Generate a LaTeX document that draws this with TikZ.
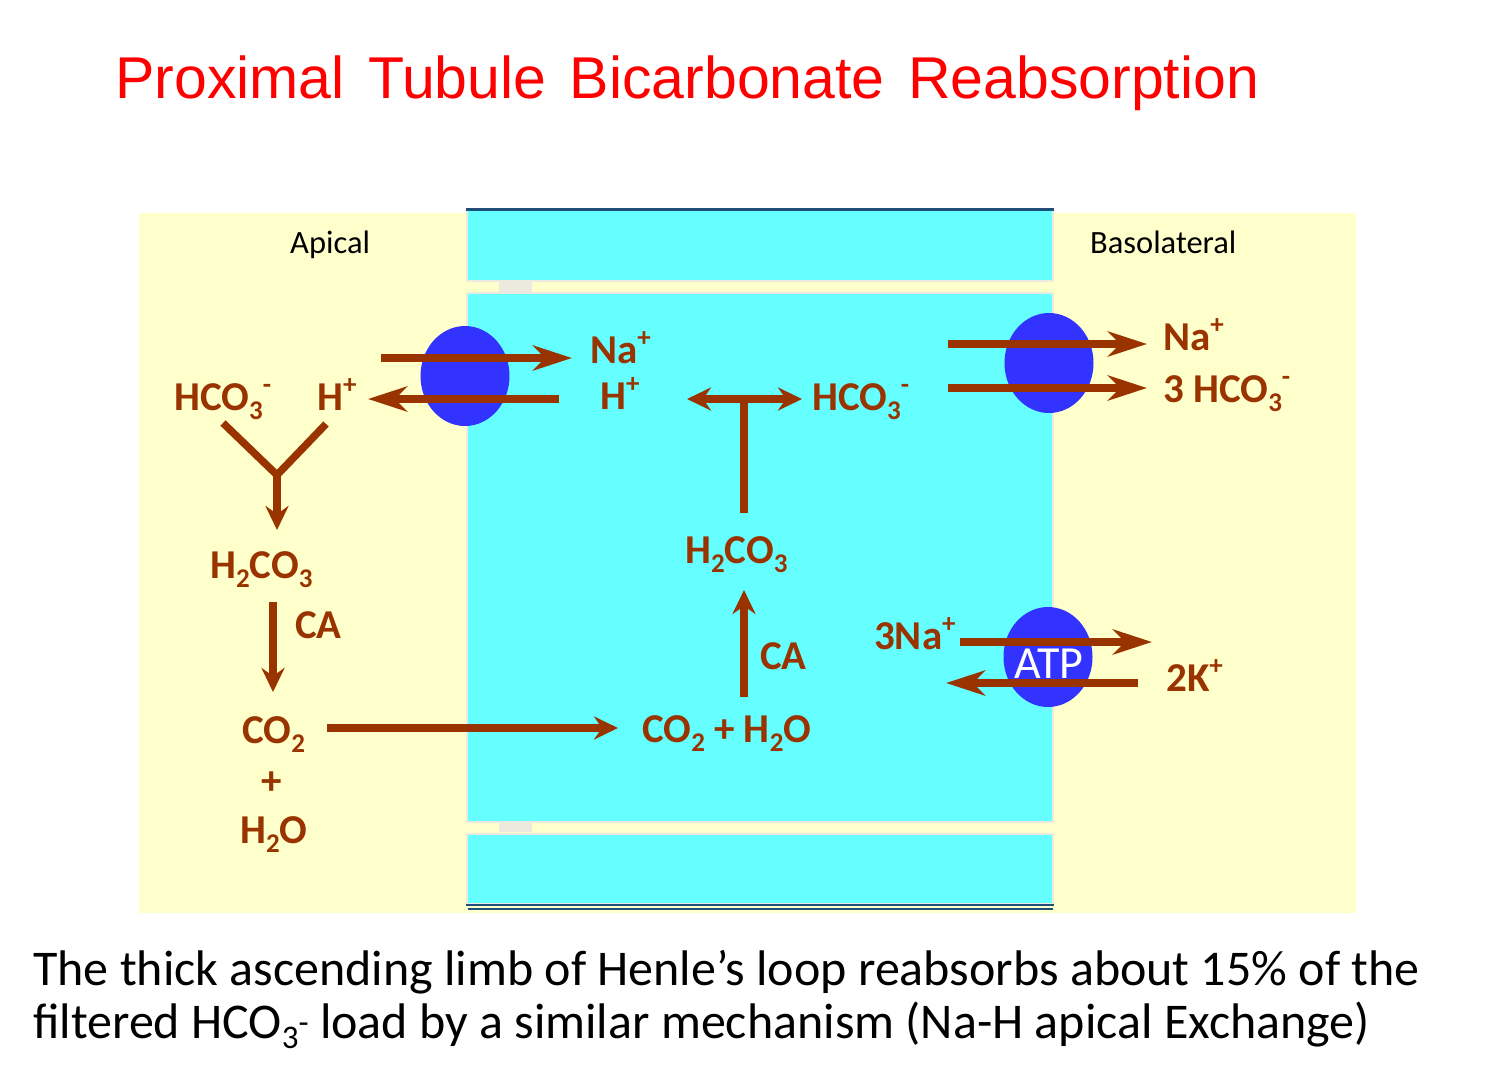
\documentclass[tikz,border=0pt]{standalone}
\usepackage{fontspec}
\setmainfont{Carlito}
\newfontfamily\arialf{Liberation Sans}
\usetikzlibrary{arrows.meta,shapes.geometric}
\definecolor{brn}{HTML}{993300}
\definecolor{cyanc}{HTML}{66FFFF}
\definecolor{yel}{HTML}{FFFFCC}
\definecolor{pblue}{HTML}{3333FF}
\definecolor{gborder}{HTML}{ECEADF}
\definecolor{dline}{HTML}{1F4E79}
\newcommand{\csub}[1]{\raisebox{-9pt}{\fontsize{27}{27}\selectfont #1}}
\newcommand{\csup}[1]{\raisebox{17pt}{\fontsize{27}{27}\selectfont #1}}
\newcommand{\bsub}[1]{\raisebox{-10pt}{\fontsize{33}{33}\selectfont #1}}
\newcommand{\bsup}[1]{\raisebox{5pt}{\fontsize{33}{33}\selectfont #1}}
\newcommand{\tsp}{\hspace{23.5pt}}
\tikzset{
  chem/.style={font=\fontsize{41}{49}\selectfont\bfseries, text=brn, inner sep=0pt, anchor=base west},
  side/.style={font=\fontsize{32.5}{38}\selectfont, text=black, inner sep=0pt, anchor=base west},
  bottxt/.style={font=\fontsize{50}{54}\selectfont, text=black, inner sep=0pt, anchor=base west},
  bigarrow/.style={draw=brn, line width=7.5pt, -{Stealth[length=39pt,width=25pt,inset=12pt]}},
  smallarrow/.style={draw=brn, line width=7.5pt, -{Stealth[length=24pt,width=23pt,inset=8pt]}},
  plainline/.style={draw=brn, line width=7.5pt},
  pump/.style={ellipse, fill=pblue, draw=none, inner sep=0pt, minimum width=89pt, minimum height=100pt},
  cellblock/.style={fill=cyanc, draw=gborder, line width=2pt},
  junction/.style={fill=gborder, draw=none},
}
\begin{document}
\begin{tikzpicture}[x=1pt,y=-1pt]
\useasboundingbox (0,0) rectangle (1485,1088);
% background areas
\fill[yel] (139,213) rectangle (1356,913);
\path[cellblock] (467,209) rectangle (1053,281);
\path[cellblock] (467,293) rectangle (1053,822);
\path[cellblock] (467,834) rectangle (1053,904);
\fill[junction] (499,282) rectangle (532,292);
\fill[junction] (499,821) rectangle (532,832);
\fill[dline] (466,207.5) rectangle (1054,210.5);
\fill[dline] (466,903.5) rectangle (1054,906);
\fill[dline] (468,907.5) rectangle (1053,909.5);

% title and side labels
\node[inner sep=0pt, anchor=base west, font=\arialf\fontsize{59}{70}\selectfont, text=red] (title) at (115,98) {Proximal\tsp Tubule\tsp Bicarbonate\tsp Reabsorption};
\node[side] (apical) at (290,253) {Apical};
\node[side] (baso) at (1090,253) {Basolateral};

% pumps
\node[pump] (p1) at (465,376) {};
\node[pump] (p2) at (1049,363) {};
\node[pump] (p3) at (1048,657) {};

% connector coordinates
\coordinate (a1s) at (381,358); \coordinate (a1e) at (572,358);
\coordinate (a2s) at (559,399); \coordinate (a2e) at (368,399);
\coordinate (yl) at (223,423); \coordinate (yr) at (326,424);
\coordinate (yj) at (277,475); \coordinate (ye) at (277,530);
\coordinate (d1s) at (273,602); \coordinate (d1e) at (273,692);
\coordinate (ls) at (327,728); \coordinate (le) at (618,728);
\coordinate (us) at (744,697); \coordinate (ue) at (744,590);
\coordinate (ts) at (744,513); \coordinate (tj) at (744,399);
\coordinate (tl) at (687,399); \coordinate (tr) at (802,399);
\coordinate (b1s) at (948,344); \coordinate (b1e) at (1147,344);
\coordinate (b2s) at (948,388); \coordinate (b2e) at (1147,388);
\coordinate (k1s) at (960,642); \coordinate (k1e) at (1152,642);
\coordinate (k2s) at (1138,683); \coordinate (k2e) at (946,683);

% arrows
\draw[bigarrow] (a1s) -- (a1e);
\draw[bigarrow] (a2s) -- (a2e);
\draw[plainline, line join=miter] (yl) -- (yj) -- (yr);
\draw[smallarrow] (yj) -- (ye);
\draw[smallarrow] (d1s) -- (d1e);
\draw[smallarrow] (ls) -- (le);
\draw[smallarrow] (us) -- (ue);
\draw[plainline] (ts) -- (tj);
\draw[smallarrow] (tj) -- (tl);
\draw[smallarrow] (tj) -- (tr);
\draw[bigarrow] (b1s) -- (b1e);
\draw[bigarrow] (b2s) -- (b2e);
\draw[bigarrow] (k1s) -- (k1e);
\draw[bigarrow] (k2s) -- (k2e);

% chemical labels
\node[chem] (hco3a) at (174,410) {HCO\csub{3}\csup{-}};
\node[chem] (ha) at (317,410) {H\csup{+}};
\node[chem] (nac) at (590,363) {Na\csup{+}};
\node[chem] (hc) at (600,409) {H\csup{+}};
\node[chem] (hco3c) at (812,410) {HCO\csub{3}\csup{-}};
\node[chem] (h2co3a) at (210,578) {H\csub{2}CO\csub{3}};
\node[chem] (ca1) at (295,638) {CA};
\node[chem] (co2a) at (242,743) {CO\csub{2}};
\node[chem, anchor=center] (plusa) at (272,783) {+};
\node[chem] (h2oa) at (240,843) {H\csub{2}O};
\node[chem] (h2co3c) at (685,563) {H\csub{2}CO\csub{3}};
\node[chem] (ca2) at (760,669) {CA};
\node[chem] (co2c) at (642,742) {CO\csub{2} + H\csub{2}O};
\node[chem] (nab) at (1163,350) {Na\csup{+}};
\node[chem] (hco3b) at (1163,402) {3 HCO\csub{3}\csup{-}};
\node[chem] (na3) at (874,649) {3Na\csup{+}};
\node[chem] (k2) at (1166,691) {2K\csup{+}};
\node[inner sep=0pt, anchor=base, text=white, font=\fontsize{46}{50}\selectfont] (atp) at (1049,678) {ATP};

% bottom text
\node[bottxt] (line1) at (33,985) {The thick ascending limb of Henle’s loop reabsorbs about 15\% of the};
\node[bottxt] (line2) at (33,1038) {filtered HCO\bsub{3}\bsup{-} load by a similar mechanism (Na-H apical Exchange)};
\end{tikzpicture}
\end{document}
